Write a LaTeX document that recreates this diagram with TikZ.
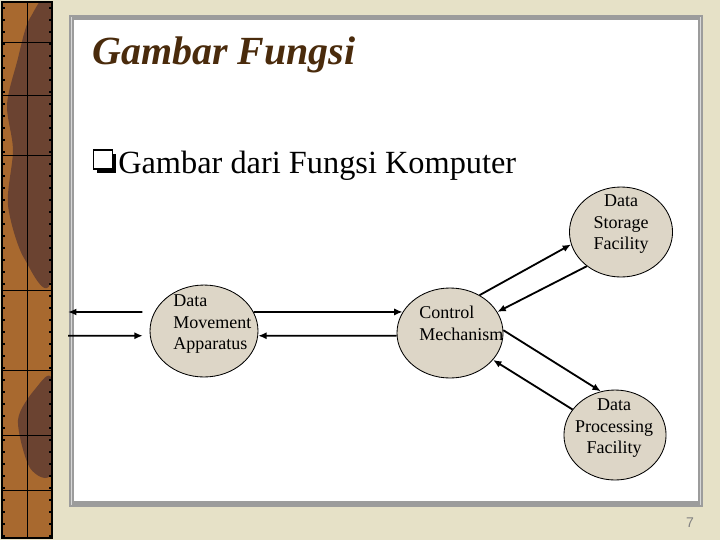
\documentclass[tikz,border=0pt]{standalone}
\usepackage{fontspec}
\setmainfont{Liberation Serif}
\newfontfamily\pagefont{Liberation Sans}
\usepackage{xcolor}
\usetikzlibrary{arrows.meta,positioning,shapes.geometric,shadows}

\definecolor{parchment}{HTML}{E6E1C7}
\definecolor{leather}{HTML}{A8692F}
\definecolor{leatherdark}{HTML}{6B4331}
\definecolor{framegray}{HTML}{9C9C9C}
\definecolor{framelight}{HTML}{D8D8D8}
\definecolor{titlebrown}{HTML}{4A2B0C}
\definecolor{blobfill}{HTML}{DDD6C7}

\begin{document}
\begin{tikzpicture}[
  x=0.025cm, y=-0.025cm,
  blob/.style={draw, ellipse, fill=blobfill, inner sep=0pt, line width=0.6pt},
  lbl/.style={font=\fontsize{12.8}{15.6}\selectfont, inner sep=0pt},
  arr/.style={-{Latex[length=6pt,width=5pt]}, line width=1.3pt}
]
  \useasboundingbox (0,0) rectangle (720,540);
  \fill[parchment] (0,0) rectangle (720,540);

  \begin{scope}
    \clip (2,2) rectangle (52,538);
    \fill[leather] (2,2) rectangle (52,538);
    \fill[leatherdark] plot[smooth cycle] coordinates {(30,18) (52,12) (52,275) (24,258) (8,205) (13,150) (7,105) (17,62)};
    \fill[leatherdark] plot[smooth cycle] coordinates {(36,388) (52,380) (52,472) (30,468) (18,420)};
  \end{scope}
  \draw[line width=0.6pt] (27,2) -- (27,538);
  \foreach \yy in {42,95,155,290,370,435,490}
    \draw[line width=0.6pt] (2,\yy) -- (52,\yy);
  \foreach \yy in {8,20,...,536} {
    \draw[line width=0.8pt] (2,\yy) -- (5,\yy);
    \draw[line width=0.8pt] (49,\yy) -- (52,\yy);
  }
  \draw[line width=1.5pt] (2,2) rectangle (52,538);

  \fill[framegray] (69,15) rectangle (703,507);
  \draw[framelight, line width=0.7pt] (71.5,17) -- (71.5,505);
  \draw[framelight, line width=0.7pt] (700.5,17) -- (700.5,505);
  \fill[white] (74,20) rectangle (698,501);

  \node[anchor=base west, inner sep=0pt, text=titlebrown,
        font=\fontsize{28.4}{34}\selectfont\bfseries\itshape] (title) at (92,64) {Gambar Fungsi};
  \node[draw, fill=white, line width=1.4pt, minimum size=13.5pt, inner sep=0pt,
        drop shadow={shadow xshift=2.6pt, shadow yshift=-2.6pt, opacity=1, fill=black}] (qbox) at (103,159.5) {};
  \node[anchor=base west, inner sep=0pt, font=\fontsize{23}{27}\selectfont] (bullet) at (118,173) {Gambar dari Fungsi Komputer};

  \node[blob, minimum width=73.3pt, minimum height=64pt] (sto) at (621,232) {};
  \node[blob, minimum width=75.4pt, minimum height=64pt] (ctrl) at (450,333) {};
  \node[blob, minimum width=76.8pt, minimum height=65.4pt] (mov) at (204,331) {};
  \node[blob, minimum width=72.6pt, minimum height=64pt] (proc) at (615,435) {};

  \node[lbl, align=center, anchor=north] (stotxt) at (621,194) {Data\\Storage\\Facility};
  \node[lbl, align=left, anchor=north west] (ctrltxt) at (419,306) {Control\\Mechanism};
  \node[lbl, align=left, anchor=north west] (movtxt) at (173,294) {Data\\Movement\\Apparatus};
  \node[lbl, align=center, anchor=north] (proctxt) at (614,398) {Data\\Processing\\Facility};

  \coordinate (outA) at (68,312);
  \coordinate (inB) at (68,335.7);
  \draw[arr, shorten <=8.5pt] (mov.159) -- (outA);
  \draw[arr, shorten >=5pt] (inB) -- (mov.185);
  \draw[arr] (mov.21) -- (ctrl.156);
  \draw[arr] (ctrl.183) -- (mov.355);
  \draw[arr] (ctrl.52) -- (sto.194);
  \draw[arr] (sto.225) -- (ctrl.24);
  \draw[arr] (ctrl.3) -- (proc.108);
  \draw[arr] (proc.149) -- (ctrl.328);

  \node[text=gray, inner sep=0pt, font=\pagefont\fontsize{10}{11}\selectfont] (pnum) at (690,523) {7};
\end{tikzpicture}
\end{document}
